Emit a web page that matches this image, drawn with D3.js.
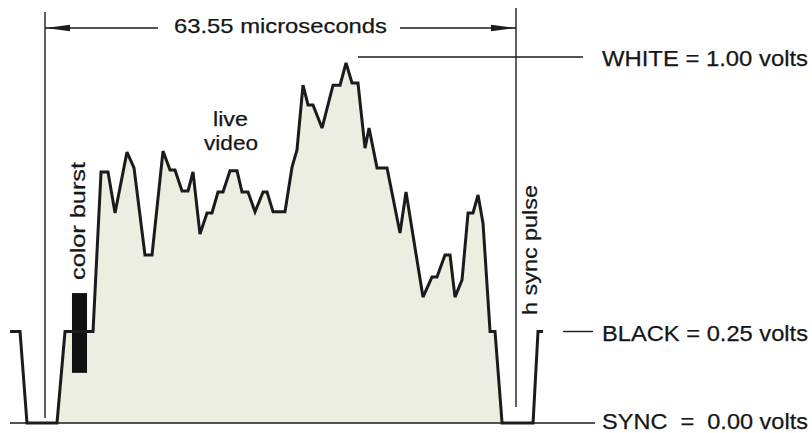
<!DOCTYPE html>
<html>
<head>
<meta charset="utf-8">
<script src="https://cdn.jsdelivr.net/npm/d3@7"></script>
<style>
  html, body { margin: 0; padding: 0; background: #ffffff; }
  svg { display: block; }
  text { font-family: "Liberation Sans", Arial, Helvetica, sans-serif; fill: #161616; stroke: #161616; stroke-width: 0.25; white-space: pre; }
</style>
</head>
<body>
<svg id="chart" width="812" height="433"></svg>
<script>
// One horizontal line of composite video: time in microseconds, level in volts.
const sampleTimeUs = [-4.72, -3.37, -2.43, 1.62, 2.70, 6.48, 7.56, 8.50, 9.45, 11.06,
  12.01, 13.49, 14.44, 15.92, 16.87, 17.54, 18.49, 19.30, 19.97, 20.91,
  21.86, 22.53, 23.34, 24.02, 24.96, 25.91, 26.58, 27.39, 28.34, 29.42,
  29.96, 30.77, 32.38, 33.33, 34.00, 34.81, 35.49, 36.16, 37.38, 38.86,
  39.81, 40.62, 41.42, 42.23, 43.18, 43.72, 44.80, 46.15, 47.90, 48.71,
  51.00, 52.22, 52.89, 53.97, 54.65, 55.32, 56.27, 57.08, 57.75, 58.43,
  59.10, 60.05, 60.72, 61.67, 65.85, 66.52, 67.20];
const sampleVolts = [0.25, 0.25, 0, 0, 0.25, 0.25, 0.686, 0.686, 0.574, 0.740,
  0.697, 0.459, 0.459, 0.743, 0.691, 0.691, 0.634, 0.634, 0.686, 0.516,
  0.574, 0.574, 0.631, 0.631, 0.689, 0.689, 0.631, 0.631, 0.577, 0.631,
  0.631, 0.577, 0.577, 0.699, 0.746, 0.923, 0.869, 0.869, 0.806, 0.923,
  0.923, 0.984, 0.929, 0.929, 0.751, 0.806, 0.697, 0.697, 0.519, 0.631,
  0.344, 0.399, 0.399, 0.459, 0.459, 0.344, 0.391, 0.574, 0.574, 0.623,
  0.546, 0.25, 0.25, 0, 0, 0.25, 0.25];

// Shaded part of the line (from end of sync to start of next sync).
const shadedRange = [3, 63];

// Colour burst on the back porch.
const burstTimeUs = [3.64, 5.67];
const burstVolts = [0.137, 0.355];

// Line period.
const periodUs = 63.55;
const periodLabel = "63.55 microseconds";

// Reference levels.
const levelVolts = [1.00, 0.25, 0.00];
const levelLabels = ["WHITE = 1.00 volts", "BLACK = 0.25 volts", "SYNC  =  0.00 volts"];

const points = sampleTimeUs.map((t, i) => ({ t, v: sampleVolts[i] }));

const svg = d3.select("#chart");
const x = d3.scaleLinear().domain([0, periodUs]).range([45, 516]);
const y = d3.scaleLinear().domain([0, 1]).range([423, 57]);

const ink = "#1b1b1b";

// Shaded video area
const area = d3.area().x(d => x(d.t)).y0(y(0)).y1(d => y(d.v));
svg.append("path")
  .datum(points.slice(shadedRange[0], shadedRange[1] + 1))
  .attr("d", area)
  .attr("fill", "#eceee2");

// Sync tip reference line
svg.append("line")
  .attr("x1", 10).attr("x2", 595)
  .attr("y1", y(0)).attr("y2", y(0))
  .attr("stroke", ink).attr("stroke-width", 1.5);

// Period markers
const markerTops = [12, 8];
const markerBottoms = [418, 407];
[0, periodUs].forEach((t, i) => {
  svg.append("line")
    .attr("x1", x(t)).attr("x2", x(t))
    .attr("y1", markerTops[i]).attr("y2", markerBottoms[i])
    .attr("stroke", ink).attr("stroke-width", 1.4);
});

// Period dimension arrows
const arrowY = 28;
svg.append("line").attr("x1", x(0)).attr("x2", 158)
  .attr("y1", arrowY).attr("y2", arrowY).attr("stroke", ink).attr("stroke-width", 1.4);
svg.append("line").attr("x1", 400).attr("x2", x(periodUs))
  .attr("y1", arrowY).attr("y2", arrowY).attr("stroke", ink).attr("stroke-width", 1.4);
svg.append("path")
  .attr("d", `M${x(0) + 1},${arrowY} L${x(0) + 25},${arrowY - 3.2} L${x(0) + 25},${arrowY + 3.2} Z`)
  .attr("fill", ink);
svg.append("path")
  .attr("d", `M${x(periodUs) - 1},${arrowY} L${x(periodUs) - 25},${arrowY - 3.2} L${x(periodUs) - 25},${arrowY + 3.2} Z`)
  .attr("fill", ink);
svg.append("text")
  .attr("x", 174).attr("y", 33)
  .attr("font-size", 21)
  .attr("textLength", 213).attr("lengthAdjust", "spacingAndGlyphs")
  .text(periodLabel);

// Level reference lines and labels
const levelLineX = [[358, 583], [563, 593], null];
const levelBaselineShift = [9, 9, 6];
levelVolts.forEach((v, i) => {
  if (levelLineX[i]) {
    svg.append("line")
      .attr("x1", levelLineX[i][0]).attr("x2", levelLineX[i][1])
      .attr("y1", y(v)).attr("y2", y(v))
      .attr("stroke", ink).attr("stroke-width", 1.4);
  }
  svg.append("text")
    .attr("x", 602).attr("y", y(v) + levelBaselineShift[i])
    .attr("font-size", 22)
    .attr("textLength", 206).attr("lengthAdjust", "spacingAndGlyphs")
    .text(levelLabels[i]);
});

// Colour burst block
svg.append("rect")
  .attr("x", x(burstTimeUs[0]))
  .attr("y", y(burstVolts[1]))
  .attr("width", x(burstTimeUs[1]) - x(burstTimeUs[0]))
  .attr("height", y(burstVolts[0]) - y(burstVolts[1]))
  .attr("fill", "#111");

// Waveform trace
const line = d3.line().x(d => x(d.t)).y(d => y(d.v));
svg.append("path")
  .datum(points)
  .attr("d", line)
  .attr("fill", "none")
  .attr("stroke", ink)
  .attr("stroke-width", 3)
  .attr("stroke-linejoin", "miter")
  .attr("stroke-miterlimit", 3);

// Annotations
svg.append("text").attr("x", 213).attr("y", 126)
  .attr("font-size", 20)
  .attr("textLength", 35).attr("lengthAdjust", "spacingAndGlyphs")
  .text("live");
svg.append("text").attr("x", 204).attr("y", 150)
  .attr("font-size", 20)
  .attr("textLength", 54).attr("lengthAdjust", "spacingAndGlyphs")
  .text("video");

svg.append("text")
  .attr("transform", "translate(85,280) rotate(-90)")
  .attr("font-size", 21)
  .attr("textLength", 118).attr("lengthAdjust", "spacingAndGlyphs")
  .text("color burst");

svg.append("text")
  .attr("transform", "translate(537,315) rotate(-90)")
  .attr("font-size", 21)
  .attr("textLength", 130).attr("lengthAdjust", "spacingAndGlyphs")
  .text("h sync pulse");
</script>
</body>
</html>
